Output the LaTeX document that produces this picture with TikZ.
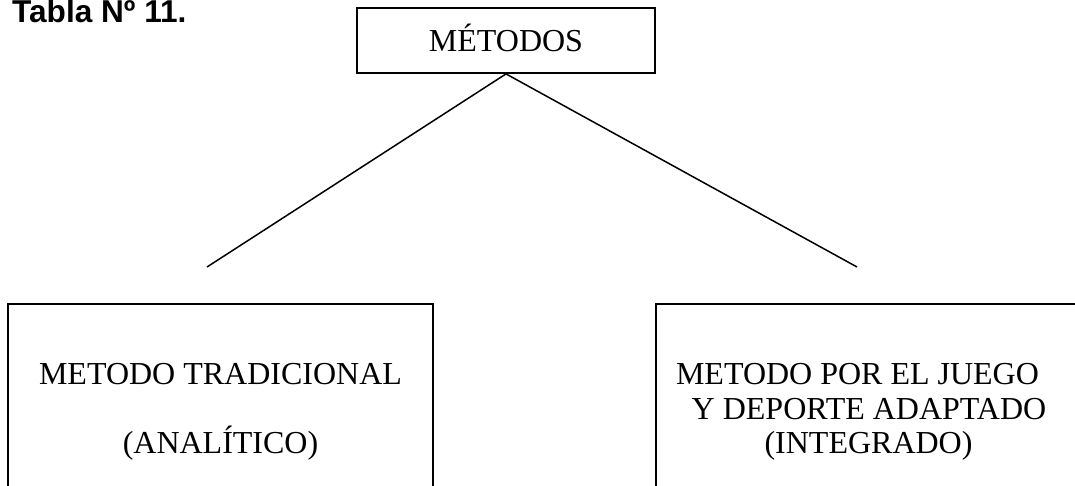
\documentclass[tikz,border=0pt]{standalone}
\usepackage{fontspec}
\setmainfont{Liberation Serif}
\newfontfamily\titlefont{Liberation Sans}
\usepackage{tikz}
\usetikzlibrary{positioning,calc}

\tikzset{
  metodobox/.style={draw, line width=1.8pt, inner sep=0pt, align=center,
    font={\fontsize{32}{34.5}\selectfont}},
  rama/.style={line width=1.5pt}
}

\begin{document}
\begin{tikzpicture}[x=1pt, y=-1pt]
   \useasboundingbox (0,0) rectangle (1075,486);

   % Title
   \node[anchor=base west, inner sep=0pt, font={\titlefont\bfseries\fontsize{31.6}{34}\selectfont}] (tabla) at (12,23) {Tabla Nº 11.};

   % Top box
   \node[metodobox, minimum width=298pt, minimum height=65pt, text height=21.5pt, text depth=0pt] (metodos) at (506,40.5) {MÉTODOS};

   % Lower boxes (cut by the page edge)
   \node[metodobox, anchor=north, minimum width=425pt, minimum height=216pt] (tradicional) at (220.5,303)
      {METODO TRADICIONAL\\[34.5pt](ANALÍTICO)};
   \node[metodobox, anchor=north, minimum width=425pt, minimum height=216pt] (juego) at (868.5,303)
      {METODO POR EL JUEGO\hspace*{22pt}\\\hspace*{1pt}Y DEPORTE ADAPTADO\hspace*{9pt}\\(INTEGRADO)};

   % Branches
   \coordinate (izq) at (207,267);
   \coordinate (der) at (857,267);
   \draw[rama] (metodos.south) -- (izq);
   \draw[rama] (metodos.south) -- (der);
\end{tikzpicture}
\end{document}
